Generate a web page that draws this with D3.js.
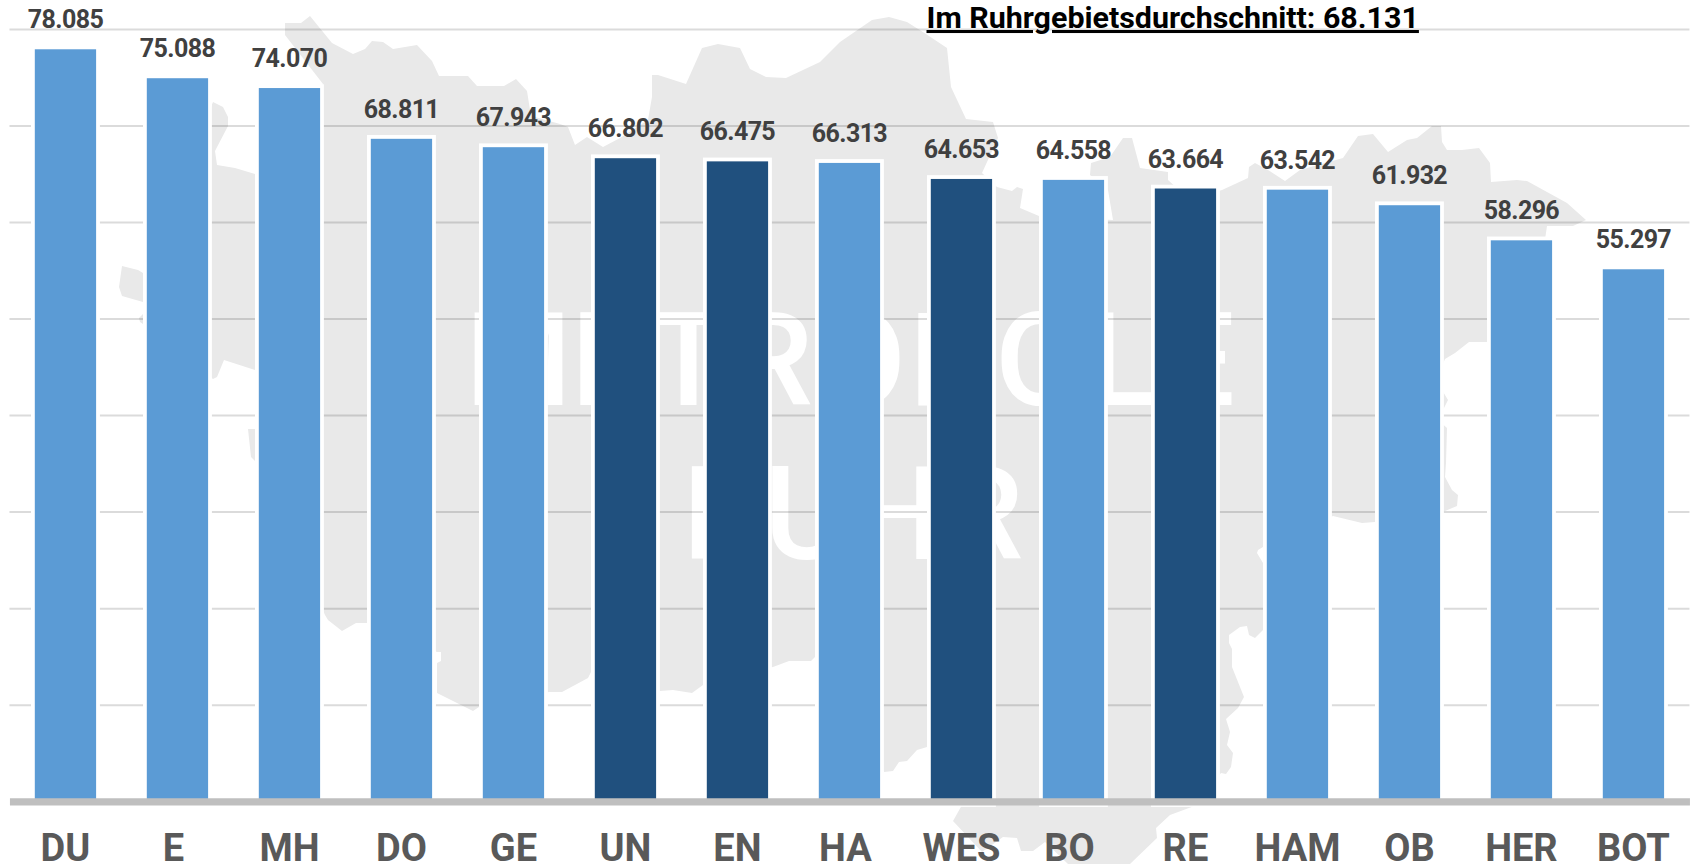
<!DOCTYPE html>
<html>
<head>
<meta charset="utf-8">
<script src="https://cdnjs.cloudflare.com/ajax/libs/d3/7.8.5/d3.min.js"></script>
<style>
  html, body { margin: 0; padding: 0; background: #fff; overflow: hidden; }
  text { font-family: Roboto, sans-serif; }
</style>
</head>
<body>
<svg id="plot" width="1690" height="864"></svg>
<script>
// Kaufkraft-Balken Ruhrgebiet, Staedte sortiert nach Wert
const categories = ["DU", "E", "MH", "DO", "GE", "UN", "EN", "HA", "WES", "BO", "RE", "HAM", "OB", "HER", "BOT"];
const values = [78085, 75088, 74070, 68811, 67943, 66802, 66475, 66313, 64653, 64558, 63664, 63542, 61932, 58296, 55297];
const kreise = ["UN", "EN", "WES", "RE"]; // dark bars
const gridTicks = [10000, 20000, 30000, 40000, 50000, 60000, 70000, 80000];
const avgLabel = "Im Ruhrgebietsdurchschnitt: 68.131";
const watermark = ["METROPOLE", "RUHR"];

// Umriss of the region behind the chart (page pixels, traced)
const mapOutline = [
  [285,23],[301,23],[310,16],[332,43],[353,54],[365,49],[372,41],[383,42],[393,49],[417,45],[432,61],[439,76],
  [468,76],[477,86],[504,86],[516,79],[527,91],[530,110],[535,117],[560,124],[568,127],[575,145],[587,137],[603,147],
  [620,138],[648,120],[652,97],[652,75],[658,75],[686,84],[702,48],[718,44],[740,48],[750,69],[766,77],[786,78],
  [820,62],[840,42],[872,20],[889,17],[907,22],[926,34],[947,48],[951,87],[966,119],[993,122],[998,138],[982,173],
  [997,187],[1012,191],[1017,187],[1023,189],[1020,208],[1039,216],[1113,220],[1108,190],[1090,175],[1091,163],
  [1110,157],[1123,138],[1132,138],[1140,168],[1168,172],[1168,180],[1190,200],[1222,190],[1248,178],[1249,167],[1255,163],
  [1268,170],[1285,181],[1300,170],[1343,158],[1358,136],[1373,134],[1388,152],[1407,140],[1417,138],[1432,126],
  [1441,126],[1442,142],[1447,150],[1462,150],[1479,148],[1490,163],[1491,182],[1517,180],[1527,181],[1567,203],
  [1586,220],[1573,226],[1547,226],[1530,342],[1469,342],[1455,353],[1445,359],[1436,380],[1448,400],[1438,420],[1447,428],
  [1446,463],[1445,477],[1452,490],[1458,495],[1457,506],[1445,511],[1375,522],[1362,523],[1333,516],[1263,547],
  [1258,550],[1257,553],[1263,563],[1263,630],[1255,638],[1249,635],[1247,626],[1240,627],[1229,635],[1229,643],
  [1232,649],[1232,667],[1244,697],[1238,708],[1226,719],[1230,732],[1227,745],[1233,753],[1231,767],[1226,774],
  [1221,773],[1197,805],[1170,815],[1156,828],[1157,838],[1130,864],[1068,864],[1045,842],[1033,851],[1021,851],
  [1017,838],[1003,837],[982,852],[953,821],[962,805],
  [927,747],[917,750],[907,761],[899,762],[893,771],[884,772],[815,657],[811,661],[789,661],[773,667],[703,685],
  [692,693],[673,690],[660,691],[591,672],[588,678],[562,692],[549,692],[479,707],[473,711],[437,693],[437,663],
  [441,661],[441,652],[437,652],[367,623],[356,623],[342,631],[328,620],[325,615],[255,461],[251,457],[248,429],
  [255,429],[255,370],[224,360],[217,377],[213,379],[143,324],[140,322],[139,318],[143,314],[143,302],[122,296],
  [119,287],[122,266],[138,270],[143,273],[213,102],[223,107],[228,117],[228,126],[215,151],[217,165],[235,168],
  [255,174],[323,84],[285,35]
];

const svg = d3.select("#plot");
const xLeft = 9.45, xRight = 1689.45; // band range
const zeroY = 803.1, topY = 30.8; // bar zero and 80000 position
const gridShift = -1.9; // grid sits a bit above the bar scale in the original
const labelNudge = { E: -4, HA: -4, BO: -4 }; // these labels are off-centre in the original

const x = d3.scaleBand().domain(categories).range([xLeft, xRight]).paddingInner(0.4527).paddingOuter(0.2264);
const y = d3.scaleLinear().domain([0, 80000]).range([zeroY, topY]);

// Background map + white wordmark
svg.append("path").
attr("d", d3.line()(mapOutline) + "Z").
attr("fill", "#e9e9e9");

const wm = svg.append("g").
attr("fill", "#fff").
attr("font-size", 130).
attr("font-weight", 500);

// the M is narrower in the original, squeeze it on its own
wm.append("text").
attr("x", 466).
attr("y", 405).
attr("textLength", 105).
attr("lengthAdjust", "spacingAndGlyphs").
text(watermark[0].slice(0, 1));

wm.append("text").
attr("x", 571).
attr("y", 405).
attr("letter-spacing", 3.2).
text(watermark[0].slice(1));

wm.append("text").
attr("x", 853).
attr("y", 558.7).
attr("text-anchor", "middle").
text(watermark[1]);

// Grid
const grid = svg.append("g").
attr("id", "grid").
attr("transform", `translate(${xLeft} ${gridShift})`).
call(d3.axisLeft(y).tickValues(gridTicks).tickSize(-(xRight - xLeft)).tickFormat(""));
grid.select(".domain").remove();
grid.selectAll("line").attr("stroke", "#000").attr("stroke-opacity", 0.14).attr("stroke-width", 2);

// Bars, white outline sits outside the fill
const data = categories.map((c, i) => ({ c: c, v: values[i] }));
svg.selectAll(".bar").
data(data).
enter().
append("rect").
attr("class", "bar").
attr("x", d => x(d.c)).
attr("y", d => y(d.v)).
attr("width", x.bandwidth()).
attr("height", d => zeroY - y(d.v)).
attr("fill", d => kreise.includes(d.c) ? "#20507e" : "#5b9bd5").
attr("stroke", "#fff").
attr("stroke-width", 7.6).
style("paint-order", "stroke");

// Category axis
const axisY = 801.3;
const xAxis = svg.append("g").
attr("id", "x-axis").
attr("transform", `translate(0 ${axisY})`).
call(d3.axisBottom(x).tickSize(0).tickSizeOuter(0));
xAxis.select(".domain").attr("stroke", "#bfbfbf").attr("stroke-width", 7.3);
xAxis.selectAll("text").
attr("x", d => labelNudge[d] || 0).
attr("y", 59.4).
attr("dy", 0).
attr("fill", "#595959").
attr("font-size", 38).
attr("font-weight", 700).
attr("font-family", "Roboto, sans-serif");

// Value labels, German thousands dot
const fmt = d3.formatLocale({ decimal: ",", thousands: ".", grouping: [3], currency: ["", " €"] }).format(",");
svg.selectAll(".val").
data(data).
enter().
append("text").
attr("class", "val").
attr("x", d => x(d.c) + x.bandwidth() / 2).
attr("y", d => y(d.v) - 21).
attr("text-anchor", "middle").
attr("fill", "#404040").
attr("font-size", 25).
attr("font-weight", 700).
attr("letter-spacing", "-0.6").
text(d => fmt(d.v));

// Average note
svg.append("text").
attr("x", 926.5).
attr("y", 28).
attr("fill", "#000").
attr("font-size", 30.4).
attr("font-weight", 700).
style("text-decoration", "underline").
text(avgLabel);
</script>
</body>
</html>
